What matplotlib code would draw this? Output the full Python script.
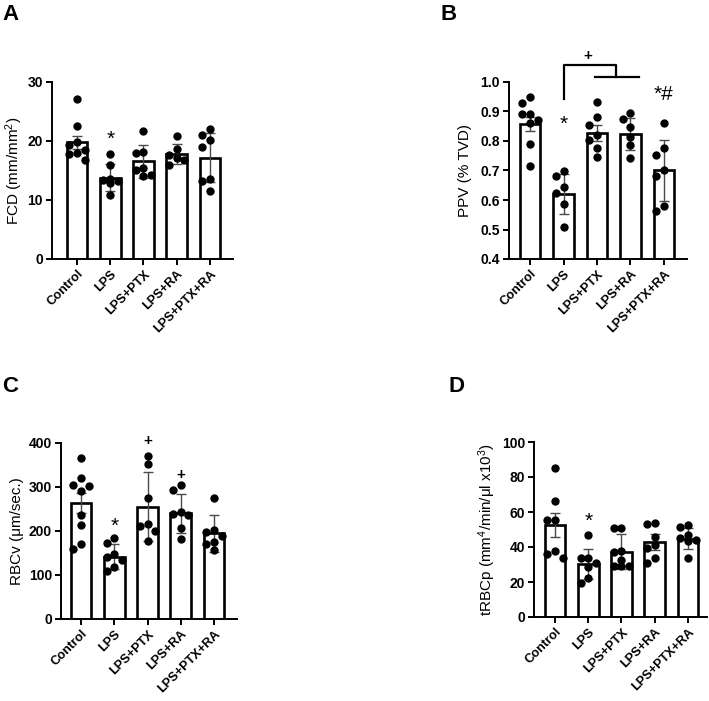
import matplotlib.pyplot as plt
import numpy as np

plt.rcParams["font.family"] = ["Liberation Sans", "DejaVu Sans"]
plt.rcParams["mathtext.default"] = "regular"

groups = ["Control", "LPS", "LPS+PTX", "LPS+RA", "LPS+PTX+RA"]

# Panel A - FCD
fcd_points = [
    [27.2, 22.6, 19.8, 19.3, 18.5, 18.0, 17.8, 16.8],
    [17.8, 15.9, 13.6, 13.4, 13.2, 12.9, 10.9],
    [21.7, 18.1, 17.9, 15.4, 15.0, 14.2, 14.0],
    [20.9, 18.6, 17.6, 17.2, 16.7, 15.9],
    [22.0, 21.0, 20.1, 18.9, 13.6, 13.2, 11.6],
]
fcd_mean = [19.8, 13.8, 16.6, 17.8, 17.2]
fcd_err = [1.1, 2.3, 2.8, 1.7, 4.2]

# Panel B - PPV
ppv_points = [
    [0.95, 0.93, 0.89, 0.89, 0.87, 0.86, 0.79, 0.715],
    [0.698, 0.681, 0.645, 0.625, 0.585, 0.507],
    [0.933, 0.88, 0.854, 0.82, 0.803, 0.775, 0.747],
    [0.894, 0.875, 0.849, 0.815, 0.786, 0.741],
    [0.86, 0.775, 0.753, 0.702, 0.681, 0.581, 0.563],
]
ppv_mean = [0.858, 0.62, 0.828, 0.824, 0.70]
ppv_err = [0.025, 0.068, 0.027, 0.055, 0.105]

# Panel C - RBCv
rbcv_points = [
    [366, 320, 304, 302, 291, 236, 213, 170, 159],
    [183, 172, 148, 140, 135, 118, 108],
    [371, 352, 276, 217, 212, 200, 178],
    [305, 293, 244, 238, 237, 206, 182],
    [274, 202, 198, 188, 176, 170, 157],
]
rbcv_mean = [264, 142, 255, 240, 195]
rbcv_err = [22, 29, 78, 44, 42]

# Panel D - tRBCp
trbcp_points = [
    [85.0, 66.5, 55.5, 55.5, 38.0, 36.0, 33.5],
    [46.9, 33.9, 33.5, 30.7, 28.8, 22.5, 19.2],
    [51.0, 51.0, 38.0, 37.0, 32.5, 29.0, 29.0, 29.0],
    [53.5, 53.0, 46.0, 41.0, 39.5, 33.5, 31.0],
    [52.5, 51.5, 47.0, 45.0, 44.0, 43.5, 33.5],
]
trbcp_mean = [52.6, 30.5, 37.3, 42.7, 44.6]
trbcp_err = [7.0, 8.5, 10.0, 4.5, 6.0]

W, H = 709, 701


def swarm_offsets(values, y_to_x, step=0.23, diam=0.24):
    # greedy placement in three columns: centre, left, right
    placed = []
    offs = []
    vs = sorted(values, reverse=True)
    for v in vs:
        best, best_d = 0.0, -1.0
        for cand in [0.0, -step, step]:
            d = min([np.hypot(cand - px, (v - py) * y_to_x) for px, py in placed],
                    default=9.0)
            if d >= diam:
                best = cand
                break
            if d > best_d:
                best, best_d = cand, d
        placed.append((best, v))
        offs.append(best)
    return np.array(offs), np.array(vs)


def draw_panel(fig, rect, points, means, errs, ylim, yticks, ylabel, letter,
               letter_xy, xlim, label_x, ytickfmt="{:g}"):
    ax = fig.add_axes(rect)
    x = np.arange(len(groups))
    ax.bar(x, means, width=0.62, color="white", edgecolor="black",
           linewidth=1.9, zorder=2)
    ax.errorbar(x, means, yerr=errs, fmt="none", ecolor="#4a4a4a",
                elinewidth=1.0, capsize=3.8, capthick=1.0, zorder=3)
    ax.set_xlim(*xlim)
    ax.set_ylim(*ylim)
    px_per_x = rect[2] * W / (xlim[1] - xlim[0])
    px_per_y = rect[3] * H / (ylim[1] - ylim[0])
    for i, vals in enumerate(points):
        offs, vs = swarm_offsets(vals, px_per_y / px_per_x)
        ax.plot(i + offs, vs, "o", color="black", markersize=6.0,
                markeredgewidth=0, zorder=4, clip_on=False)
    ax.set_yticks(yticks)
    ax.set_yticklabels([ytickfmt.format(t) for t in yticks],
                       fontweight="bold", fontsize=10)
    ax.set_xticks(x)
    ax.set_xticklabels(groups, rotation=45, ha="right",
                       rotation_mode="anchor", fontweight="bold", fontsize=9.2)
    for s in ["top", "right"]:
        ax.spines[s].set_visible(False)
    for s in ["left", "bottom"]:
        ax.spines[s].set_linewidth(1.4)
    ax.tick_params(direction="out", length=4.5, width=1.4, pad=2)
    ax.set_ylabel(ylabel, fontsize=11)
    ax.yaxis.label.set_va("center")
    ax.yaxis.set_label_coords((label_x - rect[0] * W) / (rect[2] * W), 0.5)
    fig.text(letter_xy[0] / W, 1 - letter_xy[1] / H, letter, fontsize=16,
             fontweight="bold", ha="left", va="top")
    return ax


fig = plt.figure(figsize=(W / 100, H / 100), dpi=100)

axA = draw_panel(fig, [52 / W, 1 - 259 / H, 181 / W, 177 / H], fcd_points,
                 fcd_mean, fcd_err, (0, 30), [0, 10, 20, 30],
                 "FCD (mm/mm$^2$)", "A", (2, 4), (-0.75, 4.69), 14)
axA.text(1, 18.6, "*", ha="center", va="bottom", fontsize=15)

axB = draw_panel(fig, [509 / W, 1 - 259 / H, 178 / W, 177 / H], ppv_points,
                 ppv_mean, ppv_err, (0.4, 1.0),
                 [0.4, 0.5, 0.6, 0.7, 0.8, 0.9, 1.0], "PPV (% TVD)", "B",
                 (441, 4), (-0.63, 4.69), 465, ytickfmt="{:.1f}")
axB.text(1, 0.825, "*", ha="center", va="bottom", fontsize=15)
axB.text(4, 0.925, "*#", ha="center", va="bottom", fontsize=15)
# bracket: LPS vs PTX / RA groups
axB.plot([1, 1, 2.57, 2.57], [0.942, 1.058, 1.058, 1.017], color="black",
         linewidth=1.6, clip_on=False)
axB.plot([1.95, 3.25], [1.017, 1.017], color="black", linewidth=1.6,
         clip_on=False)
axB.text(1.72, 1.063, "+", ha="center", va="bottom", fontsize=11,
         fontweight="bold")

axC = draw_panel(fig, [61 / W, 1 - 619 / H, 176 / W, 176 / H], rbcv_points,
                 rbcv_mean, rbcv_err, (0, 400), [0, 100, 200, 300, 400],
                 "RBCv (\u03bcm/sec.)", "C", (2, 376), (-0.6, 4.69), 17)
axC.text(1, 190, "*", ha="center", va="bottom", fontsize=15)
axC.text(2, 388, "+", ha="center", va="bottom", fontsize=11,
         fontweight="bold")
axC.text(3, 312, "+", ha="center", va="bottom", fontsize=11,
         fontweight="bold")

axD = draw_panel(fig, [534 / W, 1 - 617 / H, 173 / W, 175 / H], trbcp_points,
                 trbcp_mean, trbcp_err, (0, 100), [0, 20, 40, 60, 80, 100],
                 "tRBCp (mm$^4$/min/\u03bcl x10$^3$)", "D", (449, 376),
                 (-0.63, 4.57), 487)
axD.text(1, 49, "*", ha="center", va="bottom", fontsize=15)

fig.savefig("out.png", dpi=100)
